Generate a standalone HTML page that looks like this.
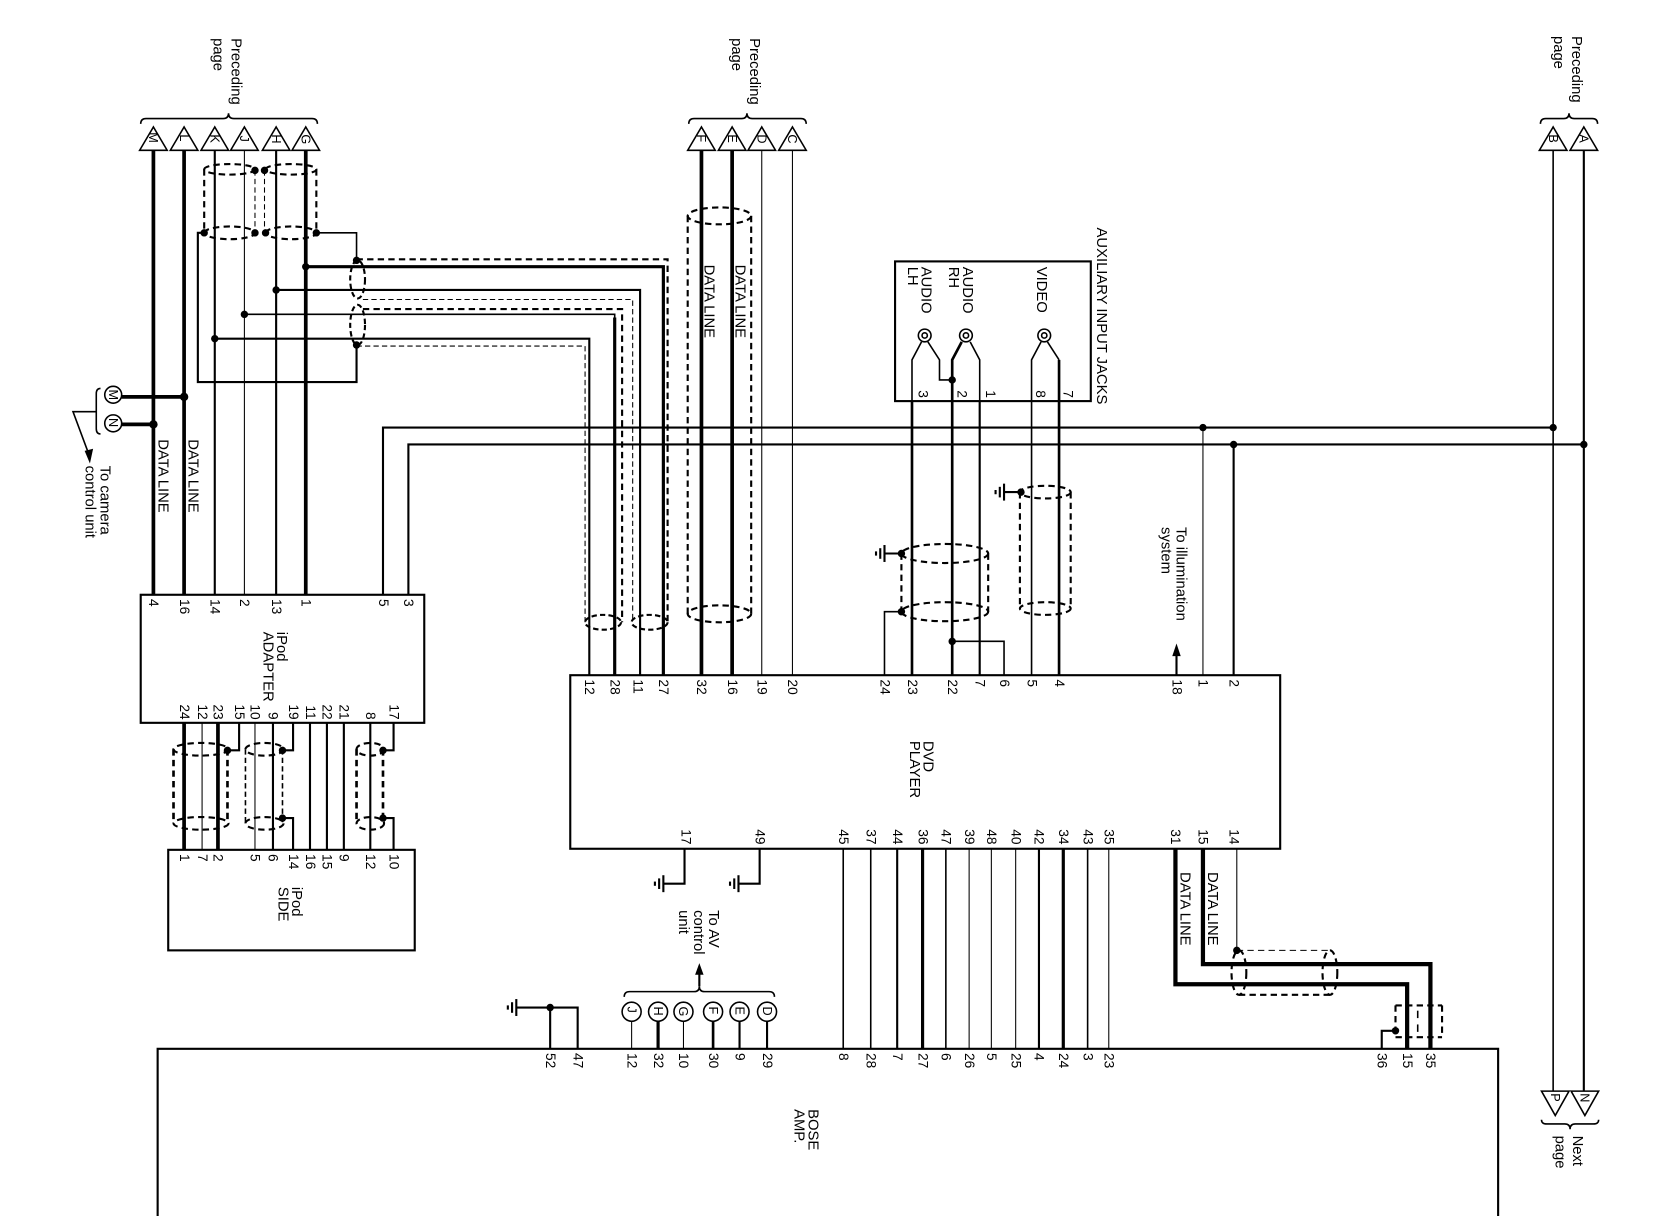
<!DOCTYPE html>
<html><head><meta charset="utf-8"><style>
html,body{margin:0;padding:0;background:#fff;}
svg{display:block;}
text{font-family:"Liberation Sans",sans-serif;fill:#000;}
</style></head><body>
<svg width="1660" height="1216" viewBox="0 0 1569 1149" preserveAspectRatio="none" xmlns="http://www.w3.org/2000/svg">
<g fill="none" stroke="#000" stroke-linecap="butt">
<g stroke-width="1.5">
<path d="M132,142 L158,142 L145,120 Z"/><path d="M161,142 L187,142 L174,120 Z"/><path d="M190,142 L216,142 L203,120 Z"/>
<path d="M218,142 L244,142 L231,120 Z"/><path d="M248,142 L274,142 L261,120 Z"/><path d="M276,142 L302,142 L289,120 Z"/>
<path d="M133,117 Q133,112 138,112 L211,112 Q216,112 216,107 Q216,112 221,112 L295,112 Q300,112 300,117"/>
<path d="M650,142 L676,142 L663,120 Z"/><path d="M679,142 L705,142 L692,120 Z"/><path d="M707,142 L733,142 L720,120 Z"/><path d="M736,142 L762,142 L749,120 Z"/>
<path d="M651,117 Q651,112 656,112 L701,112 Q706,112 706,107 Q706,112 711,112 L757,112 Q762,112 762,117"/>
<path d="M1455,142 L1481,142 L1468,120 Z"/><path d="M1484,142 L1510,142 L1497,120 Z"/>
<path d="M1456,117 Q1456,112 1461,112 L1478,112 Q1483,112 1483,107 Q1483,112 1488,112 L1505,112 Q1510,112 1510,117"/>
<path d="M1457,1031 L1483,1031 L1470,1054 Z"/><path d="M1485,1031 L1511,1031 L1498,1054 Z"/>
<path d="M1457,1058 Q1457,1062 1462,1062 L1479,1062 Q1484,1062 1484,1067 Q1484,1062 1489,1062 L1506,1062 Q1511,1062 1511,1058"/>
</g>

<line x1="145" y1="142" x2="145" y2="562" stroke-width="3.5"/>
<line x1="174" y1="142" x2="174" y2="562" stroke-width="3.5"/>
<line x1="203" y1="142" x2="203" y2="562" stroke-width="2"/>
<line x1="231" y1="142" x2="231" y2="562" stroke-width="1"/>
<line x1="261" y1="142" x2="261" y2="562" stroke-width="2"/>
<line x1="289" y1="142" x2="289" y2="562" stroke-width="3.5"/>

<g stroke-dasharray="6,4" stroke-width="2">
<path d="M193,160 A24,5 0 0 1 241,160 A24,5 0 0 1 193,160"/>
<path d="M251,160 A24,5 0 0 1 299,160 A24,5 0 0 1 251,160"/>
<path d="M193,220 A24,6 0 0 1 241,220 A24,6 0 0 1 193,220"/>
<path d="M251,220 A24,6 0 0 1 299,220 A24,6 0 0 1 251,220"/>
<line x1="193" y1="160" x2="193" y2="220"/><line x1="299" y1="160" x2="299" y2="220"/>
</g>
<g stroke-dasharray="5,3" stroke-width="1">
<line x1="241" y1="161" x2="241" y2="220"/><line x1="250" y1="161" x2="250" y2="220"/>
</g>
<path d="M193,220 L187,220 L187,361 L337,361 L337,326" stroke-width="2"/>
<path d="M299,220 L337,220 L337,246" stroke-width="1.5"/>

<g stroke-dasharray="5,3" stroke-width="2">
<ellipse cx="338" cy="264" rx="7" ry="18"/>
<ellipse cx="338" cy="307" rx="7" ry="19"/>
</g>
<path d="M337,245 L631,245 L631,588" stroke-dasharray="6,4" stroke-width="2"/>
<path d="M343,283 L598,283 L598,588" stroke-dasharray="5,3" stroke-width="1"/>
<path d="M343,292 L588,292 L588,588" stroke-dasharray="6,4" stroke-width="2"/>
<path d="M337,327 L553,327 L553,588" stroke-dasharray="5,3" stroke-width="1"/>
<path d="M289,252 L627,252 L627,638" stroke-width="3"/>
<path d="M261,274 L605,274 L605,638" stroke-width="2"/>
<path d="M231,297 L581,297 L581,638" stroke-width="1.5"/>
<path d="M203,320 L557,320 L557,638" stroke-width="2"/>
<line x1="581" y1="300" x2="581" y2="638" stroke-width="3"/>
<g stroke-dasharray="5,3" stroke-width="2">
<ellipse cx="570" cy="588" rx="17" ry="7"/>
<ellipse cx="614" cy="588" rx="17" ry="7"/>
</g>

<circle cx="107" cy="373" r="8" stroke-width="1.5"/>
<circle cx="107" cy="400" r="8" stroke-width="1.5"/>
<path d="M95,367 Q91,367 91,372 L91,405 Q91,410 95,410" stroke-width="1.5"/>
<path d="M91,389 L69,389 L85,432" stroke-width="1.5"/>
<line x1="115" y1="375" x2="174" y2="375" stroke-width="3.5"/>
<line x1="115" y1="401" x2="145" y2="401" stroke-width="3.5"/>

<path d="M362,562 L362,404 L1468,404" stroke-width="2"/>
<path d="M386,562 L386,420 L1497,420" stroke-width="2"/>
<line x1="1468" y1="142" x2="1468" y2="1031" stroke-width="1.5"/>
<line x1="1497" y1="142" x2="1497" y2="1031" stroke-width="2"/>

<rect x="133" y="562" width="268" height="121" stroke-width="2"/>
<rect x="159" y="803" width="233" height="95" stroke-width="2"/>
<line x1="174" y1="683" x2="174" y2="803" stroke-width="3.5"/>
<line x1="191" y1="683" x2="191" y2="803" stroke-width="1"/>
<line x1="206" y1="683" x2="206" y2="803" stroke-width="3.5"/>
<path d="M226,683 L226,709 L215,709" stroke-width="2"/>
<line x1="241" y1="683" x2="241" y2="803" stroke-width="1"/>
<line x1="258" y1="683" x2="258" y2="803" stroke-width="2"/>
<path d="M277,683 L277,709 L267,709" stroke-width="2"/>
<path d="M267,773 L277,773 L277,803" stroke-width="2"/>
<line x1="293" y1="683" x2="293" y2="803" stroke-width="2"/>
<line x1="309" y1="683" x2="309" y2="803" stroke-width="2"/>
<line x1="325" y1="683" x2="325" y2="803" stroke-width="2"/>
<line x1="350" y1="683" x2="350" y2="803" stroke-width="2"/>
<path d="M372,683 L372,709 L362,709" stroke-width="2"/>
<path d="M362,773 L372,773 L372,803" stroke-width="2"/>
<g stroke-dasharray="6,4" stroke-width="2.5">
<line x1="164" y1="708" x2="164" y2="778"/><line x1="215" y1="708" x2="215" y2="778"/>
<line x1="337" y1="708" x2="337" y2="778"/><line x1="362" y1="708" x2="362" y2="778"/>
</g>
<g stroke-dasharray="5,3" stroke-width="1.5">
<line x1="232" y1="708" x2="232" y2="778"/><line x1="267" y1="708" x2="267" y2="778"/>
</g>
<g stroke-dasharray="6,4" stroke-width="2">
<ellipse cx="190" cy="708" rx="26" ry="6"/><ellipse cx="190" cy="778" rx="26" ry="6"/>
<ellipse cx="250" cy="708" rx="18" ry="6"/><ellipse cx="250" cy="778" rx="18" ry="6"/>
<ellipse cx="350" cy="708" rx="13" ry="6"/><ellipse cx="350" cy="778" rx="13" ry="6"/>
</g>

<line x1="663" y1="142" x2="663" y2="638" stroke-width="3.5"/>
<line x1="692" y1="142" x2="692" y2="638" stroke-width="3.5"/>
<line x1="720" y1="142" x2="720" y2="638" stroke-width="1"/>
<line x1="749" y1="142" x2="749" y2="638" stroke-width="1"/>
<g stroke-dasharray="6,4" stroke-width="2">
<ellipse cx="680" cy="204" rx="30" ry="8"/><ellipse cx="680" cy="580" rx="30" ry="8"/>
<line x1="650" y1="204" x2="650" y2="580"/><line x1="710" y1="204" x2="710" y2="580"/>
</g>

<rect x="539" y="638" width="671" height="164" stroke-width="2"/>

<rect x="846" y="247" width="185" height="132" stroke-width="2"/>
<g stroke-width="1.5">
<circle cx="874" cy="317" r="6"/><circle cx="874" cy="317" r="2.5"/>
<circle cx="913" cy="317" r="6"/><circle cx="913" cy="317" r="2.5"/>
<circle cx="987" cy="317" r="6"/><circle cx="987" cy="317" r="2.5"/>
<path d="M862,638 L862,340 L871,323"/><path d="M877,323 L888,340 L888,359 L900,359"/>
<path d="M926,638 L926,340 L917,323"/>
<path d="M975,638 L975,340 L984,323"/><path d="M990,323 L1001,340"/>
</g>
<path d="M900,638 L900,340 L909,323" stroke-width="2.5"/>
<line x1="862" y1="379" x2="862" y2="638" stroke-width="2.5"/>
<line x1="926" y1="379" x2="926" y2="638" stroke-width="2"/>
<line x1="975" y1="379" x2="975" y2="638" stroke-width="1"/>
<line x1="1001" y1="340" x2="1001" y2="638" stroke-width="2.5"/>
<g stroke-dasharray="6,4" stroke-width="2">
<ellipse cx="988" cy="465" rx="24" ry="6"/><ellipse cx="988" cy="575" rx="24" ry="6"/>
<line x1="964" y1="465" x2="964" y2="575"/><line x1="1012" y1="465" x2="1012" y2="575"/>
<ellipse cx="893" cy="523" rx="41" ry="9"/><ellipse cx="893" cy="578" rx="41" ry="9"/>
<line x1="852" y1="523" x2="852" y2="578"/><line x1="934" y1="523" x2="934" y2="578"/>
</g>
<path d="M852,578 L836,578 L836,638" stroke-width="1.5"/>
<path d="M900,606 L949,606 L949,638" stroke-width="1.5"/>
<line x1="852" y1="523" x2="836" y2="523" stroke-width="2"/>
<line x1="965" y1="465" x2="949" y2="465" stroke-width="2"/>
<g stroke-width="2">
<line x1="836" y1="515" x2="836" y2="531"/><line x1="832" y1="518" x2="832" y2="528"/><line x1="828" y1="521" x2="828" y2="525"/>
<line x1="949" y1="457" x2="949" y2="473"/><line x1="945" y1="460" x2="945" y2="470"/><line x1="941" y1="463" x2="941" y2="467"/>
<path d="M647,802 L647,835 L627,835"/><line x1="627" y1="827" x2="627" y2="843"/><line x1="623" y1="830" x2="623" y2="840"/><line x1="619" y1="833" x2="619" y2="837"/>
<path d="M718,802 L718,835 L698,835"/><line x1="698" y1="827" x2="698" y2="843"/><line x1="694" y1="830" x2="694" y2="840"/><line x1="690" y1="833" x2="690" y2="837"/>
<path d="M546,991 L546,952 L488,952"/><line x1="520" y1="952" x2="520" y2="991"/>
<line x1="488" y1="944" x2="488" y2="960"/><line x1="484" y1="947" x2="484" y2="957"/><line x1="480" y1="950" x2="480" y2="954"/>
</g>

<line x1="1112" y1="618" x2="1112" y2="638" stroke-width="2"/>
<line x1="1137" y1="404" x2="1137" y2="638" stroke-width="1"/>
<line x1="1166" y1="420" x2="1166" y2="638" stroke-width="2"/>

<line x1="797" y1="802" x2="797" y2="991" stroke-width="1.5"/>
<line x1="823" y1="802" x2="823" y2="991" stroke-width="1.5"/>
<line x1="848" y1="802" x2="848" y2="991" stroke-width="2"/>
<line x1="872" y1="802" x2="872" y2="991" stroke-width="3"/>
<line x1="894" y1="802" x2="894" y2="991" stroke-width="1.5"/>
<line x1="916" y1="802" x2="916" y2="991" stroke-width="1"/>
<line x1="937" y1="802" x2="937" y2="991" stroke-width="1"/>
<line x1="960" y1="802" x2="960" y2="991" stroke-width="1"/>
<line x1="982" y1="802" x2="982" y2="991" stroke-width="2"/>
<line x1="1005" y1="802" x2="1005" y2="991" stroke-width="3"/>
<line x1="1028" y1="802" x2="1028" y2="991" stroke-width="1.5"/>
<line x1="1048" y1="802" x2="1048" y2="991" stroke-width="1"/>

<path d="M1111,802 L1111,930 L1330,930 L1330,991" stroke-width="4"/>
<path d="M1137,802 L1137,911 L1352,911 L1352,991" stroke-width="4"/>
<line x1="1169" y1="802" x2="1169" y2="898" stroke-width="1"/>
<g stroke-dasharray="6,4" stroke-width="2">
<ellipse cx="1171" cy="919" rx="7" ry="21"/><ellipse cx="1257" cy="919" rx="7" ry="21"/>
<line x1="1169" y1="898" x2="1257" y2="898" stroke-width="1"/>
<line x1="1171" y1="940" x2="1257" y2="940"/>
<path d="M1319,950 L1363,950 M1319,980 L1363,980 M1319,950 L1319,980 M1363,950 L1363,980"/>
</g>
<g stroke-width="1.5"><line x1="1340" y1="955" x2="1340" y2="962"/><line x1="1340" y1="968" x2="1340" y2="975"/></g>
<path d="M1319,974 L1306,974 L1306,991" stroke-width="2"/>

<g stroke-width="1.5">
<circle cx="597" cy="956" r="9"/><circle cx="622" cy="956" r="9"/><circle cx="646" cy="956" r="9"/>
<circle cx="674" cy="956" r="9"/><circle cx="699" cy="956" r="9"/><circle cx="725" cy="956" r="9"/>
<path d="M590,942 Q590,937 595,937 L656,937 Q661,937 661,932 Q661,937 666,937 L727,937 Q732,937 732,942"/>
<line x1="597" y1="965" x2="597" y2="991" stroke-width="1"/>
<line x1="622" y1="965" x2="622" y2="991" stroke-width="3"/>
<line x1="646" y1="965" x2="646" y2="991" stroke-width="1"/>
<line x1="674" y1="965" x2="674" y2="991" stroke-width="2.5"/>
<line x1="699" y1="965" x2="699" y2="991" stroke-width="2"/>
<line x1="725" y1="965" x2="725" y2="991" stroke-width="2"/>
<line x1="661" y1="932" x2="661" y2="918" stroke-width="2"/>
</g>

<path d="M149,1149 L149,991 L1416,991 L1416,1149" stroke-width="2"/>
</g>

<g fill="#000">
<circle cx="241" cy="161" r="3.5"/><circle cx="250" cy="161" r="3.5"/>
<circle cx="193" cy="220" r="3.5"/><circle cx="241" cy="220" r="3.5"/><circle cx="251" cy="220" r="3.5"/><circle cx="299" cy="220" r="3.5"/>
<circle cx="337" cy="246" r="3.5"/><circle cx="337" cy="326" r="3.5"/>
<circle cx="289" cy="252" r="3.5"/><circle cx="261" cy="274" r="3.5"/><circle cx="231" cy="297" r="3.5"/><circle cx="203" cy="320" r="3.5"/>
<circle cx="174" cy="375" r="4"/><circle cx="145" cy="401" r="4"/>
<circle cx="1137" cy="404" r="3.5"/><circle cx="1468" cy="404" r="3.5"/><circle cx="1166" cy="420" r="3.5"/><circle cx="1497" cy="420" r="3.5"/>
<circle cx="900" cy="359" r="3.5"/><circle cx="965" cy="465" r="3.5"/><circle cx="852" cy="523" r="3.5"/><circle cx="852" cy="578" r="3.5"/><circle cx="900" cy="606" r="3.5"/>
<circle cx="215" cy="709" r="3.5"/><circle cx="267" cy="709" r="3.5"/><circle cx="267" cy="773" r="3.5"/><circle cx="362" cy="709" r="3.5"/><circle cx="362" cy="773" r="3.5"/>
<circle cx="1169" cy="898" r="3.5"/><circle cx="1319" cy="974" r="3.5"/><circle cx="520" cy="952" r="3.5"/>
<path d="M1112,608 L1108,620 L1116,620 Z"/>
<path d="M661,910 L657,921 L665,921 Z"/>
<path d="M85,438 L80,426 L88,424 Z"/>
</g>

<g font-size="14">
<text transform="translate(219,36) rotate(90)">Preceding</text>
<text transform="translate(202,36) rotate(90)">page</text>
<text transform="translate(709,36) rotate(90)">Preceding</text>
<text transform="translate(692,36) rotate(90)">page</text>
<text transform="translate(1486,34) rotate(90)">Preceding</text>
<text transform="translate(1469,34) rotate(90)">page</text>
<text transform="translate(1487,1073) rotate(90)">Next</text>
<text transform="translate(1470,1073) rotate(90)">page</text>
<g font-size="12">
<text transform="translate(141,125) rotate(90)">M</text><text transform="translate(170,127) rotate(90)">L</text>
<text transform="translate(199,127) rotate(90)">K</text><text transform="translate(227,128) rotate(90)">J</text>
<text transform="translate(257,127) rotate(90)">H</text><text transform="translate(285,127) rotate(90)">G</text>
<text transform="translate(659,127) rotate(90)">F</text><text transform="translate(688,127) rotate(90)">E</text>
<text transform="translate(716,127) rotate(90)">D</text><text transform="translate(745,127) rotate(90)">C</text>
<text transform="translate(1464,127) rotate(90)">B</text><text transform="translate(1493,127) rotate(90)">A</text>
<text transform="translate(1466,1033) rotate(90)">P</text><text transform="translate(1494,1033) rotate(90)">N</text>
<text transform="translate(103,368) rotate(90)">M</text><text transform="translate(103,395) rotate(90)">N</text>
<text transform="translate(593,951) rotate(90)">J</text><text transform="translate(618,951) rotate(90)">H</text>
<text transform="translate(642,951) rotate(90)">G</text><text transform="translate(670,951) rotate(90)">F</text>
<text transform="translate(695,951) rotate(90)">E</text><text transform="translate(721,951) rotate(90)">D</text>
</g>
<text transform="translate(150,415) rotate(90)">DATA LINE</text>
<text transform="translate(178,415) rotate(90)">DATA LINE</text>
<text transform="translate(666,250) rotate(90)">DATA LINE</text>
<text transform="translate(695,250) rotate(90)">DATA LINE</text>
<text transform="translate(1116,824) rotate(90)">DATA LINE</text>
<text transform="translate(1142,824) rotate(90)">DATA LINE</text>
<text transform="translate(95,440) rotate(90)">To camera</text>
<text transform="translate(81,440) rotate(90)">control unit</text>
<text transform="translate(1112,498) rotate(90)">To illumination</text>
<text transform="translate(1098,498) rotate(90)">system</text>
<text transform="translate(670,860) rotate(90)">To AV</text>
<text transform="translate(656,860) rotate(90)">control</text>
<text transform="translate(642,860) rotate(90)">unit</text>
<text transform="translate(1037,215) rotate(90)">AUXILIARY INPUT JACKS</text>
<text transform="translate(980,252) rotate(90)">VIDEO</text>
<text transform="translate(910,252) rotate(90)">AUDIO</text>
<text transform="translate(897,252) rotate(90)">RH</text>
<text transform="translate(871,252) rotate(90)">AUDIO</text>
<text transform="translate(858,252) rotate(90)">LH</text>
<text transform="translate(262,597) rotate(90)">iPod</text>
<text transform="translate(249,597) rotate(90)">ADAPTER</text>
<text transform="translate(276,838) rotate(90)">iPod</text>
<text transform="translate(263,838) rotate(90)">SIDE</text>
<text transform="translate(873,700) rotate(90)">DVD</text>
<text transform="translate(860,700) rotate(90)">PLAYER</text>
<text transform="translate(764,1048) rotate(90)">BOSE</text>
<text transform="translate(751,1048) rotate(90)">AMP.</text>
</g>
<g font-size="13">
<text transform="translate(141,566) rotate(90)">4</text><text transform="translate(170,566) rotate(90)">16</text>
<text transform="translate(199,566) rotate(90)">14</text><text transform="translate(227,566) rotate(90)">2</text>
<text transform="translate(257,566) rotate(90)">13</text><text transform="translate(285,566) rotate(90)">1</text>
<text transform="translate(358,566) rotate(90)">5</text><text transform="translate(382,566) rotate(90)">3</text>
<g text-anchor="end">
<text transform="translate(170,680) rotate(90)">24</text><text transform="translate(187,680) rotate(90)">12</text>
<text transform="translate(202,680) rotate(90)">23</text><text transform="translate(222,680) rotate(90)">15</text>
<text transform="translate(237,680) rotate(90)">10</text><text transform="translate(254,680) rotate(90)">9</text>
<text transform="translate(273,680) rotate(90)">19</text><text transform="translate(289,680) rotate(90)">11</text>
<text transform="translate(305,680) rotate(90)">22</text><text transform="translate(321,680) rotate(90)">21</text>
<text transform="translate(346,680) rotate(90)">8</text><text transform="translate(368,680) rotate(90)">17</text>
</g>
<text transform="translate(170,807) rotate(90)">1</text><text transform="translate(187,807) rotate(90)">7</text>
<text transform="translate(202,807) rotate(90)">2</text><text transform="translate(237,807) rotate(90)">5</text>
<text transform="translate(254,807) rotate(90)">6</text><text transform="translate(273,807) rotate(90)">14</text>
<text transform="translate(289,807) rotate(90)">16</text><text transform="translate(305,807) rotate(90)">15</text>
<text transform="translate(321,807) rotate(90)">9</text><text transform="translate(346,807) rotate(90)">12</text>
<text transform="translate(368,807) rotate(90)">10</text>
<g text-anchor="end">
<text transform="translate(868,376) rotate(90)">3</text><text transform="translate(905,376) rotate(90)">2</text>
<text transform="translate(932,376) rotate(90)">1</text><text transform="translate(979,376) rotate(90)">8</text>
<text transform="translate(1005,376) rotate(90)">7</text>
</g>
<text transform="translate(553,642) rotate(90)">12</text><text transform="translate(577,642) rotate(90)">28</text>
<text transform="translate(599,642) rotate(90)">11</text><text transform="translate(623,642) rotate(90)">27</text>
<text transform="translate(659,642) rotate(90)">32</text><text transform="translate(688,642) rotate(90)">16</text>
<text transform="translate(716,642) rotate(90)">19</text><text transform="translate(745,642) rotate(90)">20</text>
<text transform="translate(832,642) rotate(90)">24</text><text transform="translate(858,642) rotate(90)">23</text>
<text transform="translate(896,642) rotate(90)">22</text><text transform="translate(922,642) rotate(90)">7</text>
<text transform="translate(945,642) rotate(90)">6</text><text transform="translate(971,642) rotate(90)">5</text>
<text transform="translate(997,642) rotate(90)">4</text><text transform="translate(1108,642) rotate(90)">18</text>
<text transform="translate(1133,642) rotate(90)">1</text><text transform="translate(1162,642) rotate(90)">2</text>
<g text-anchor="end">
<text transform="translate(644,798) rotate(90)">17</text><text transform="translate(714,798) rotate(90)">49</text>
<text transform="translate(793,798) rotate(90)">45</text><text transform="translate(819,798) rotate(90)">37</text>
<text transform="translate(844,798) rotate(90)">44</text><text transform="translate(868,798) rotate(90)">36</text>
<text transform="translate(890,798) rotate(90)">47</text><text transform="translate(912,798) rotate(90)">39</text>
<text transform="translate(933,798) rotate(90)">48</text><text transform="translate(956,798) rotate(90)">40</text>
<text transform="translate(978,798) rotate(90)">42</text><text transform="translate(1001,798) rotate(90)">34</text>
<text transform="translate(1024,798) rotate(90)">43</text><text transform="translate(1044,798) rotate(90)">35</text>
<text transform="translate(1107,798) rotate(90)">31</text><text transform="translate(1133,798) rotate(90)">15</text>
<text transform="translate(1162,798) rotate(90)">14</text>
</g>
<text transform="translate(516,995) rotate(90)">52</text><text transform="translate(542,995) rotate(90)">47</text>
<text transform="translate(593,995) rotate(90)">12</text><text transform="translate(618,995) rotate(90)">32</text>
<text transform="translate(642,995) rotate(90)">10</text><text transform="translate(670,995) rotate(90)">30</text>
<text transform="translate(695,995) rotate(90)">9</text><text transform="translate(721,995) rotate(90)">29</text>
<text transform="translate(793,995) rotate(90)">8</text><text transform="translate(819,995) rotate(90)">28</text>
<text transform="translate(844,995) rotate(90)">7</text><text transform="translate(868,995) rotate(90)">27</text>
<text transform="translate(890,995) rotate(90)">6</text><text transform="translate(912,995) rotate(90)">26</text>
<text transform="translate(933,995) rotate(90)">5</text><text transform="translate(956,995) rotate(90)">25</text>
<text transform="translate(978,995) rotate(90)">4</text><text transform="translate(1001,995) rotate(90)">24</text>
<text transform="translate(1024,995) rotate(90)">3</text><text transform="translate(1044,995) rotate(90)">23</text>
<text transform="translate(1302,995) rotate(90)">36</text><text transform="translate(1326,995) rotate(90)">15</text>
<text transform="translate(1348,995) rotate(90)">35</text>
</g>
</svg>
</body></html>
